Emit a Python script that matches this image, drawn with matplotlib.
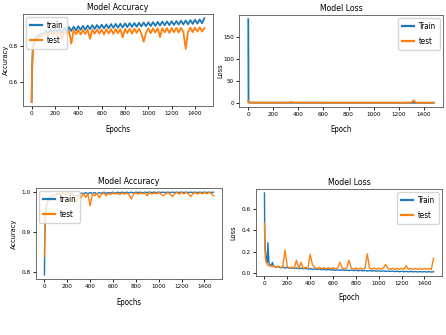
import numpy as np
import matplotlib.pyplot as plt

plt.rcParams['font.family'] = ['DejaVu Sans']
plt.rcParams['font.stretch'] = 'condensed'

# epochs at which values were read (dense at the start, every 20 after)
epochs_early = [0, 2, 4, 6, 8, 10, 15, 20, 25, 30, 40, 50, 60, 70, 80, 90]
epochs = np.array(epochs_early + list(range(100, 1500, 20)))

# model 1: accuracy
acc1_train = [0.49, 0.58, 0.66, 0.71, 0.75, 0.78, 0.80, 0.82, 0.83, 0.84, 0.85, 0.855, 0.86, 0.865, 0.87, 0.87,
              0.866, 0.888, 0.872, 0.892, 0.876, 0.896, 0.880, 0.900, 0.872, 0.905, 0.884, 0.907, 0.886, 0.909,
              0.890, 0.912, 0.892, 0.914, 0.893, 0.915, 0.896, 0.918, 0.897, 0.919, 0.899, 0.921, 0.900, 0.922,
              0.901, 0.924, 0.903, 0.925, 0.904, 0.926, 0.905, 0.928, 0.907, 0.929, 0.908, 0.930, 0.909, 0.931,
              0.911, 0.933, 0.912, 0.934, 0.913, 0.935, 0.914, 0.936, 0.916, 0.938, 0.917, 0.939, 0.918, 0.940,
              0.919, 0.941, 0.921, 0.943, 0.922, 0.944, 0.923, 0.946, 0.925, 0.948, 0.927, 0.950, 0.929, 0.957]
acc1_test = [0.49, 0.60, 0.68, 0.72, 0.74, 0.77, 0.79, 0.81, 0.82, 0.83, 0.84, 0.845, 0.85, 0.855, 0.86, 0.86,
             0.858, 0.876, 0.860, 0.879, 0.862, 0.881, 0.863, 0.884, 0.840, 0.886, 0.866, 0.888, 0.815, 0.889,
             0.868, 0.890, 0.866, 0.891, 0.869, 0.892, 0.842, 0.893, 0.870, 0.894, 0.871, 0.893, 0.866, 0.895,
             0.872, 0.896, 0.869, 0.897, 0.873, 0.896, 0.850, 0.897, 0.874, 0.898, 0.871, 0.898, 0.875, 0.899,
             0.872, 0.825, 0.876, 0.900, 0.873, 0.900, 0.877, 0.901, 0.852, 0.901, 0.878, 0.902, 0.875, 0.902,
             0.879, 0.903, 0.877, 0.903, 0.880, 0.786, 0.881, 0.904, 0.879, 0.905, 0.883, 0.906, 0.882, 0.902]

# model 1: loss
loss1_train = [190.0, 1.2, 0.9, 0.8, 0.75, 0.7, 0.65, 0.6, 0.58, 0.55, 0.5, 0.48, 0.45, 0.44, 0.42, 0.41,
               0.40, 0.38, 0.41, 0.37, 0.39, 0.36, 0.38, 0.35, 0.37, 0.34, 0.36, 0.33, 0.35, 0.32,
               0.34, 0.31, 0.33, 0.30, 0.32, 0.30, 0.31, 0.29, 0.30, 0.28, 0.30, 0.27, 0.29, 0.27,
               0.28, 0.26, 0.28, 0.25, 0.27, 0.25, 0.26, 0.24, 0.26, 0.23, 0.25, 0.23, 0.24, 0.22,
               0.24, 0.21, 0.23, 0.21, 0.22, 0.20, 0.22, 0.20, 0.21, 0.19, 0.21, 0.19, 0.20, 0.18,
               0.20, 0.18, 0.19, 0.17, 0.19, 0.17, 0.18, 0.16, 0.18, 0.16, 0.17, 0.15, 0.17, 0.15]
loss1_test = [5.0, 1.6, 1.0, 0.9, 0.85, 0.8, 0.75, 0.7, 0.68, 0.65, 0.6, 0.58, 0.55, 0.54, 0.52, 0.5,
              0.50, 0.55, 0.48, 0.56, 0.49, 0.57, 0.48, 0.58, 0.70, 0.56, 0.49, 0.57, 2.0, 0.56,
              0.48, 0.55, 0.47, 0.56, 0.48, 0.55, 0.65, 0.54, 0.47, 0.55, 0.46, 0.54, 0.47, 0.53,
              0.46, 0.54, 0.45, 0.53, 0.46, 0.52, 0.60, 0.52, 0.45, 0.51, 0.44, 0.52, 0.45, 0.51,
              0.44, 0.70, 0.43, 0.50, 0.44, 0.49, 0.43, 0.50, 0.58, 0.49, 0.42, 0.48, 0.43, 0.49,
              0.42, 0.48, 0.41, 0.47, 0.42, 6.0, 0.41, 0.46, 0.40, 0.47, 0.41, 0.46, 0.40, 0.45]

# model 2: accuracy
acc2_train = [0.794, 0.86, 0.90, 0.92, 0.935, 0.945, 0.96, 0.968, 0.974, 0.978, 0.983, 0.986, 0.988, 0.99, 0.991, 0.992,
              0.993, 0.996, 0.994, 0.997, 0.994, 0.997, 0.995, 0.997, 0.988, 0.990, 0.989, 0.997, 0.995, 0.998,
              0.995, 0.998, 0.996, 0.998, 0.995, 0.998, 0.996, 0.999, 0.996, 0.998, 0.997, 0.999, 0.996, 0.999,
              0.997, 0.999, 0.997, 0.999, 0.997, 0.999, 0.997, 0.999, 0.998, 0.999, 0.997, 0.999, 0.998, 0.999,
              0.998, 0.999, 0.998, 0.999, 0.998, 0.999, 0.998, 0.999, 0.998, 0.999, 0.998, 0.999, 0.998, 0.999,
              0.998, 0.999, 0.998, 0.999, 0.998, 0.999, 0.998, 0.999, 0.998, 0.999, 0.998, 0.999, 0.998, 0.999]
acc2_test = [0.84, 0.88, 0.905, 0.925, 0.94, 0.95, 0.962, 0.97, 0.975, 0.979, 0.984, 0.987, 0.989, 0.99, 0.991, 0.992,
             0.993, 0.995, 0.992, 0.996, 0.993, 0.996, 0.993, 0.997, 0.980, 0.972, 0.994, 0.985, 0.996, 0.986,
             0.994, 0.965, 0.995, 0.990, 0.996, 0.985, 0.994, 0.997, 0.990, 0.996, 0.993, 0.997, 0.994, 0.996,
             0.993, 0.997, 0.994, 0.997, 0.993, 0.982, 0.995, 0.997, 0.994, 0.997, 0.995, 0.997, 0.990, 0.998,
             0.994, 0.997, 0.995, 0.998, 0.994, 0.990, 0.995, 0.998, 0.994, 0.988, 0.995, 0.998, 0.994, 0.998,
             0.995, 0.998, 0.995, 0.988, 0.995, 0.998, 0.994, 0.998, 0.995, 0.998, 0.995, 0.998, 0.996, 0.990]

# model 2: loss
loss2_train = [0.75, 0.45, 0.33, 0.26, 0.22, 0.19, 0.15, 0.12, 0.10, 0.285, 0.09, 0.075, 0.07, 0.10, 0.065, 0.06,
               0.055, 0.060, 0.050, 0.055, 0.048, 0.052, 0.045, 0.050, 0.043, 0.048, 0.042, 0.046, 0.040, 0.044,
               0.038, 0.042, 0.036, 0.040, 0.034, 0.038, 0.032, 0.036, 0.030, 0.034, 0.029, 0.032, 0.027, 0.031,
               0.026, 0.030, 0.025, 0.029, 0.024, 0.028, 0.023, 0.027, 0.022, 0.026, 0.021, 0.025, 0.020, 0.024,
               0.019, 0.023, 0.018, 0.022, 0.017, 0.021, 0.016, 0.020, 0.015, 0.019, 0.014, 0.018, 0.013, 0.017,
               0.013, 0.016, 0.012, 0.016, 0.012, 0.015, 0.011, 0.015, 0.011, 0.014, 0.010, 0.014, 0.010, 0.013]
loss2_test = [0.47, 0.30, 0.22, 0.18, 0.15, 0.13, 0.10, 0.09, 0.08, 0.075, 0.07, 0.065, 0.07, 0.06, 0.065, 0.06,
              0.055, 0.065, 0.050, 0.062, 0.215, 0.060, 0.048, 0.058, 0.045, 0.120, 0.046, 0.100, 0.044, 0.055,
              0.042, 0.175, 0.080, 0.052, 0.040, 0.055, 0.041, 0.052, 0.039, 0.050, 0.040, 0.051, 0.038, 0.049,
              0.100, 0.048, 0.038, 0.050, 0.120, 0.047, 0.037, 0.049, 0.036, 0.048, 0.037, 0.047, 0.180, 0.046,
              0.036, 0.048, 0.035, 0.046, 0.036, 0.047, 0.080, 0.045, 0.035, 0.046, 0.034, 0.045, 0.035, 0.046,
              0.034, 0.070, 0.035, 0.044, 0.033, 0.045, 0.034, 0.044, 0.033, 0.045, 0.034, 0.043, 0.033, 0.140]

W, H = 446, 335
fig = plt.figure(figsize=(W / 100, H / 100), dpi=100)


def box(left, right, top, bottom):
    return [left / W, 1 - bottom / H, (right - left) / W, (bottom - top) / H]


def panel(rect, train, test, title, xlabel, ylabel, train_label, legend_loc,
          yticks, lw, xlab_y, ylab_xy):
    ax = fig.add_axes(box(*rect))
    ax.plot(epochs, train, color='#1f77b4', lw=lw, label=train_label)
    ax.plot(epochs, test, color='#ff7f0e', lw=lw, label='test')
    ax.set_title(title, fontsize=6.2, pad=3)
    ax.set_xlabel(xlabel, fontsize=5.6)
    ax.set_ylabel(ylabel, fontsize=5.3)
    ax.xaxis.set_label_coords(0.5, xlab_y)
    ax.yaxis.set_label_coords(*ylab_xy)
    ax.set_xticks(range(0, 1500, 200))
    ax.set_yticks(yticks)
    ax.tick_params(labelsize=4.6, length=2.5, pad=1.2, width=0.6)
    for s in ax.spines.values():
        s.set_linewidth(0.6)
        s.set_color('#555555')
    leg = ax.legend(loc=legend_loc, fontsize=5.8, handlelength=1.5, borderpad=0.45,
                    labelspacing=0.75, handletextpad=0.6, borderaxespad=0.4)
    for line in leg.get_lines():
        line.set_linewidth(1.6)
    return ax


panel((23, 213, 14, 106), acc1_train, acc1_test, 'Model Accuracy', 'Epochs', 'Accuracy', 'train',
      'upper left', [0.6, 0.8], 1.3, -0.207, (-0.075, 0.5))
panel((239, 443, 15, 107), loss1_train, loss1_test, 'Model Loss', 'Epoch', 'Loss', 'Train',
      'upper right', [0, 50, 100, 150], 1.3, -0.20, (-0.076, 0.39))
panel((36, 222, 188, 279), acc2_train, acc2_test, 'Model Accuracy', 'Epochs', 'Accuracy', 'train',
      'upper left', [0.8, 0.9, 1.0], 1.0, -0.204, (-0.105, 0.5))
panel((256, 442, 189, 276), loss2_train, loss2_test, 'Model Loss', 'Epoch', 'Loss', 'Train',
      'upper right', [0.0, 0.2, 0.4, 0.6], 1.0, -0.19, (-0.105, 0.5))

fig.savefig('out.png', dpi=100)
